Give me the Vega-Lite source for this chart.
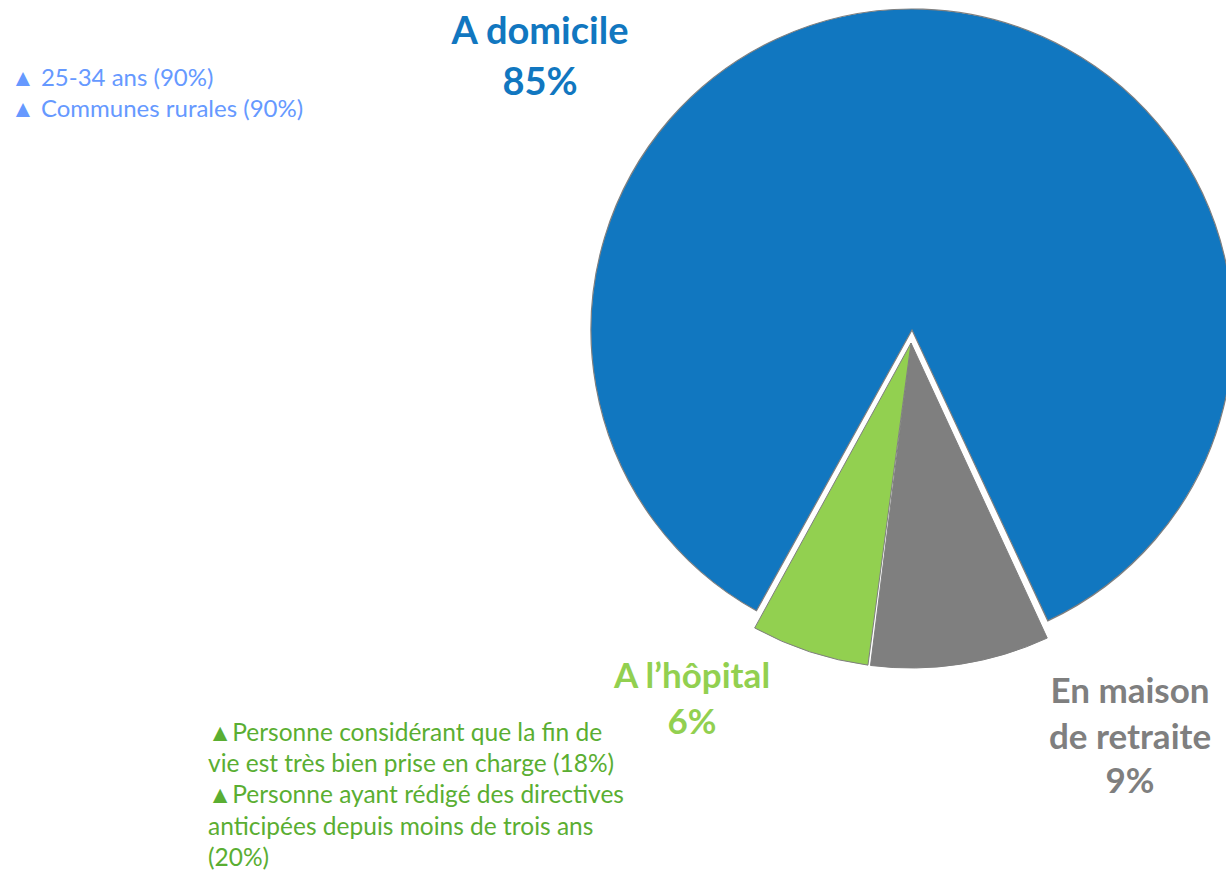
{
  "$schema": "https://vega.github.io/schema/vega-lite/v6.json",
  "width": 1226,
  "height": 871,
  "autosize": "none",
  "padding": 0,
  "background": "white",
  "config": {"view": {"stroke": null}, "font": "Lato"},
  "datasets": {
    "slices": [
      {"lieu": "En maison de retraite", "line1": "En maison", "line2": "de retraite", "part": 0.09},
      {"lieu": "A l’hôpital", "line1": "A l’hôpital", "line2": "", "part": 0.06},
      {"lieu": "A domicile", "line1": "A domicile", "line2": "", "part": 0.85}
    ]
  },
  "data": {"name": "slices"},
  "transform": [
    {"stack": "part", "groupby": [], "as": ["p0", "p1"]}
  ],
  "layer": [
    {
      "transform": [{"filter": "datum.lieu === 'A domicile'"}],
      "mark": {"type": "arc", "x": 912, "y": 330, "outerRadius": 321, "stroke": "#7f7f7f", "strokeWidth": 1.2},
      "encoding": {
        "theta": {"field": "p0", "type": "quantitative", "scale": {"domain": [0, 1], "range": [2.705, 8.988]}},
        "theta2": {"field": "p1"},
        "color": {"field": "lieu", "type": "nominal", "legend": null,
          "scale": {"domain": ["A domicile", "A l’hôpital", "En maison de retraite"], "range": ["#1177c0", "#92d050", "#7f7f7f"]}}
      }
    },
    {
      "transform": [{"filter": "datum.lieu !== 'A domicile'"}],
      "mark": {"type": "arc", "x": 911, "y": 343, "outerRadius": 325, "stroke": "#7f7f7f", "strokeWidth": 1, "padAngle": 0.008},
      "encoding": {
        "theta": {"field": "p0", "type": "quantitative", "scale": {"domain": [0, 1], "range": [2.705, 8.988]}},
        "theta2": {"field": "p1"},
        "color": {"field": "lieu", "type": "nominal", "legend": null}
      }
    },
    {
      "transform": [{"filter": "datum.lieu === 'A domicile'"}],
      "mark": {"type": "text", "x": 540, "y": 44, "align": "center", "baseline": "alphabetic", "fontSize": 38, "fontWeight": "bold", "color": "#1177c0"},
      "encoding": {"text": {"field": "line1"}}
    },
    {
      "transform": [{"filter": "datum.lieu === 'A domicile'"}],
      "mark": {"type": "text", "x": 540, "y": 95, "align": "center", "baseline": "alphabetic", "fontSize": 38, "fontWeight": "bold", "color": "#1177c0"},
      "encoding": {"text": {"field": "part", "format": ".0%"}}
    },
    {
      "transform": [{"filter": "datum.lieu === 'A l’hôpital'"}],
      "mark": {"type": "text", "x": 692, "y": 688, "align": "center", "baseline": "alphabetic", "fontSize": 35, "fontWeight": "bold", "color": "#92d050"},
      "encoding": {"text": {"field": "line1"}}
    },
    {
      "transform": [{"filter": "datum.lieu === 'A l’hôpital'"}],
      "mark": {"type": "text", "x": 692, "y": 734, "align": "center", "baseline": "alphabetic", "fontSize": 35, "fontWeight": "bold", "color": "#92d050"},
      "encoding": {"text": {"field": "part", "format": ".0%"}}
    },
    {
      "transform": [{"filter": "datum.lieu === 'En maison de retraite'"}],
      "mark": {"type": "text", "x": 1130, "y": 703, "align": "center", "baseline": "alphabetic", "fontSize": 35, "fontWeight": "bold", "color": "#7f7f7f"},
      "encoding": {"text": {"field": "line1"}}
    },
    {
      "transform": [{"filter": "datum.lieu === 'En maison de retraite'"}],
      "mark": {"type": "text", "x": 1130, "y": 749, "align": "center", "baseline": "alphabetic", "fontSize": 35, "fontWeight": "bold", "color": "#7f7f7f"},
      "encoding": {"text": {"field": "line2"}}
    },
    {
      "transform": [{"filter": "datum.lieu === 'En maison de retraite'"}],
      "mark": {"type": "text", "x": 1130, "y": 793, "align": "center", "baseline": "alphabetic", "fontSize": 35, "fontWeight": "bold", "color": "#7f7f7f"},
      "encoding": {"text": {"field": "part", "format": ".0%"}}
    },
    {
      "data": {"values": [{"n": 1}]},
      "mark": {"type": "text", "x": 11, "y": 86, "align": "left", "baseline": "alphabetic", "fontSize": 24, "lineHeight": 31, "color": "#6699ff",
        "text": ["▲ 25-34 ans (90%)", "▲ Communes rurales (90%)"]},
      "encoding": {}
    },
    {
      "data": {"values": [{"n": 1}]},
      "mark": {"type": "text", "x": 208, "y": 741, "align": "left", "baseline": "alphabetic", "fontSize": 24.5, "lineHeight": 31.2, "color": "#5aae32",
        "text": ["▲Personne considérant que la fin de", "vie est très bien prise en charge (18%)", "▲Personne ayant rédigé des directives", "anticipées depuis moins de trois ans", "(20%)"]},
      "encoding": {}
    }
  ]
}
